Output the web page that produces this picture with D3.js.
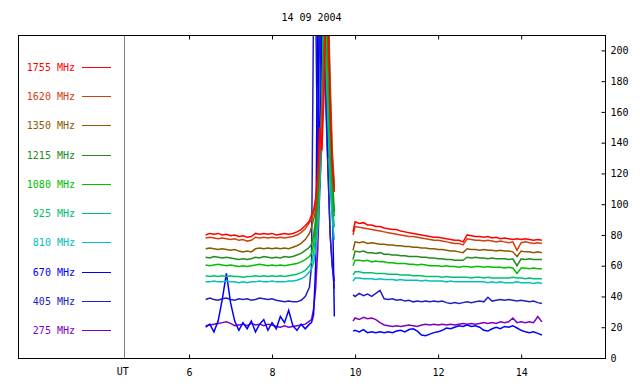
<!DOCTYPE html>
<html>
<head>
<meta charset="utf-8">
<script src="https://cdn.jsdelivr.net/npm/d3@7"></script>
<style>
  body { margin: 0; background: #fff; }
  text { font-family: "DejaVu Sans Mono", monospace; font-size: 10px; }
</style>
</head>
<body>
<div id="chart"></div>
<script>
// Radio flux, 14 09 2004 - one line per frequency
const freqs = ['1755 MHz', '1620 MHz', '1350 MHz', '1215 MHz', '1080 MHz', '925 MHz', '810 MHz', '670 MHz', '405 MHz', '275 MHz'];
const colors = ['#ff0000', '#d04010', '#8b5a00', '#228b22', '#00c000', '#00c070', '#00c0c0', '#0000ff', '#2020c0', '#8000c0'];

// UT hours
const tBefore = [6.4, 6.5, 6.6, 6.7, 6.8, 6.9, 7.0, 7.1, 7.2, 7.3, 7.4, 7.5, 7.6, 7.7, 7.8, 7.9, 8.0, 8.1, 8.2, 8.3, 8.4, 8.5, 8.6, 8.7, 8.8, 8.9,
  8.95, 9.0, 9.05, 9.1, 9.15, 9.2, 9.25, 9.3, 9.35, 9.4, 9.45, 9.5];
const tAfter = [9.95, 10.0, 10.1, 10.2, 10.3, 10.4, 10.5, 10.6, 10.7, 10.8, 10.9, 11.0, 11.1, 11.2, 11.3, 11.4, 11.5, 11.6, 11.7, 11.8, 11.9,
  12.0, 12.1, 12.2, 12.3, 12.4, 12.5, 12.6, 12.7, 12.8, 12.9, 13.0, 13.1, 13.2, 13.3, 13.4, 13.5, 13.6, 13.7, 13.8, 13.9,
  14.0, 14.1, 14.2, 14.3, 14.4, 14.5];

const before1755 = [80, 81, 80.5, 81, 80, 80.5, 79.5, 80, 79, 79.5, 78.5, 79, 81, 80.5, 81, 80.5, 81, 80, 80.5, 81, 80.5, 81, 82, 83.5, 86, 89,
  93, 96, 104, 120, 150, 135, 170, 230, 230, 160, 125, 108];
const after1755 = [82, 88.5, 87.5, 88, 86.5, 86.5, 85.5, 85.5, 84.5, 84, 83.5, 83.5, 82.5, 82, 81.5, 81, 80.5, 80, 79.5, 79, 78.5, 78.5, 78, 77.5,
  77, 76.5, 76.5, 75.5, 80, 79.5, 79, 79, 78.5, 79, 78, 78.5, 77.5, 78, 77.5, 77, 77.5, 77, 77.5, 77, 76.5, 77, 76.5];

const before1620 = [78, 78.5, 78, 77.5, 78, 77.5, 77, 77.5, 76.5, 77, 76, 76.5, 78.5, 78, 78.5, 78, 78.5, 78, 78.5, 78, 78.5, 79, 80, 81.5, 84, 88,
  90, 94, 100, 115, 140, 160, 190, 230, 230, 170, 130, 110];
const after1620 = [80, 85.5, 85, 84.5, 84, 83.5, 83, 82.5, 82, 81.5, 81, 80.5, 80, 79.5, 79, 79, 78.5, 78, 77.5, 77, 76.5, 76.5, 76, 75.5,
  75, 74.5, 74.5, 73.5, 77.5, 77, 76.5, 76.5, 76, 76.5, 76, 75.5, 76, 75.5, 75, 75.5, 70, 75, 75.5, 75, 74.5, 75, 74.5];

const before1350 = [71, 71.5, 71, 70.5, 71, 70.5, 70, 70.5, 69.5, 69, 69.5, 69, 71, 71.5, 71, 71.5, 71, 71.5, 71, 71.5, 71, 72, 73, 74.5, 77, 81,
  85, 90, 96, 110, 130, 150, 180, 230, 230, 180, 135, 112];
const after1350 = [70, 75.5, 75, 75.5, 74.5, 75, 74.5, 74, 74, 73.5, 73.5, 73, 73, 72.5, 72.5, 72, 72, 71.5, 71.5, 71, 71, 70.5, 70.5, 70,
  69.5, 69.5, 69, 68.5, 71, 70.5, 70.5, 70, 70.5, 70, 70, 69.5, 70, 69.5, 69.5, 69, 66, 69.5, 69, 69, 68.5, 69, 68.5];

const before1215 = [65.5, 65, 66, 65.5, 65, 65.5, 65, 64.5, 64, 64.5, 64, 64.5, 65.5, 65, 66, 65.5, 65, 65.5, 65, 66, 65.5, 66, 67, 68, 70, 72,
  74, 80, 90, 105, 135, 150, 200, 230, 200, 160, 120, 95];
const after1215 = [64, 69.5, 69, 69.5, 68.5, 68.5, 68, 68.5, 67.5, 67.5, 67, 67, 66.5, 66.5, 66, 66, 66, 65.5, 65.5, 65, 65, 64.5, 64.5, 64,
  64, 63.5, 63.5, 63.5, 65.5, 65, 65.5, 65, 65, 64.5, 65, 64.5, 64.5, 64.5, 64, 64.5, 60, 64.5, 64, 64.5, 64, 64, 64];

const before1080 = [60.5, 60, 60.5, 61, 60.5, 60, 60.5, 60, 59.5, 60, 59.5, 60, 60.5, 61, 60.5, 60, 60.5, 60, 60.5, 60, 60.5, 61, 61.5, 62.5, 64, 66,
  68, 74, 85, 100, 130, 170, 230, 230, 180, 140, 110, 92];
const after1080 = [60, 63.5, 63.5, 63, 63.5, 62.5, 63, 62.5, 62.5, 62, 62, 61.5, 61.5, 61.5, 61, 61, 60.5, 61, 60.5, 60, 60, 60, 59.5, 60,
  59.5, 59.5, 59, 59.5, 59.5, 59, 59.5, 59.5, 59, 59.5, 59, 59, 59, 58.5, 59, 58.5, 55, 58.5, 58.5, 58, 58.5, 58, 58];

const before925 = [53.5, 53, 53.5, 53, 53.5, 53, 53.5, 53, 53, 52.5, 53, 53, 53.5, 53, 53.5, 53, 53.5, 53, 53.5, 53, 53.5, 54, 54.5, 55.5, 57, 60,
  62, 68, 78, 90, 120, 160, 230, 200, 160, 120, 100, 85];
const after925 = [54, 56, 56, 55.5, 55.5, 55.5, 55, 55, 55, 54.5, 54.5, 54.5, 54, 54, 54, 53.5, 53.5, 53.5, 53, 53, 53, 53, 52.5, 53,
  52.5, 52.5, 52.5, 52.5, 52.5, 52, 52.5, 52.5, 52, 52.5, 52, 52, 52, 52, 52, 52.5, 52, 52, 51.5, 52, 51.5, 51.5, 51.5];

const before810 = [49.5, 49.5, 50, 49.5, 49.5, 50, 49.5, 49.5, 49, 49.5, 49, 49.5, 49.5, 50, 49.5, 49.5, 50, 49.5, 49.5, 49.5, 50, 50, 50.5, 51.5, 53, 56,
  58, 62, 70, 85, 110, 150, 230, 190, 150, 110, 90, 77];
const after810 = [50, 52, 52, 51.5, 51.5, 51.5, 51, 51.5, 51, 51, 51, 50.5, 51, 50.5, 50.5, 50.5, 50.5, 50, 50.5, 50, 50, 50, 50, 49.5,
  50, 49.5, 49.5, 49.5, 49.5, 49.5, 49.5, 49.5, 49.5, 49, 49.5, 49, 49.5, 49, 49, 49, 49.5, 49, 49, 49, 48.5, 49, 48.5];

const before670 = [20, 22, 17, 24, 38, 55, 36, 24, 18, 23, 19, 24, 17, 22, 25, 18, 23, 19, 27, 23, 31, 21, 18, 22, 19, 22,
  23, 28, 60, 230, 110, 230, 230, 200, 130, 140, 110, 27];
const after670 = [17.5, 18, 17, 18.5, 16.5, 17, 16.5, 17, 16.5, 17, 16.5, 17.5, 18, 17, 18.5, 19, 17.5, 15, 14.5, 15.5, 16.5, 17, 18, 19.5,
  19, 20, 21, 20.5, 21.5, 20.5, 21, 20, 18, 17.5, 19, 20, 19, 20.5, 20, 21, 19.5, 18, 17, 16.5, 17, 16, 15];

const before405 = [38, 39, 38, 37.5, 38.5, 39, 38, 37.5, 38.5, 38, 38.5, 37.5, 38, 39, 38.5, 38, 38.5, 37.5, 37, 36.5, 37, 36.5, 36.5, 37.5, 40, 46,
  60, 230, 230, 120, 230, 150, 230, 170, 120, 80, 60, 50];
const after405 = [41, 40, 42, 40.5, 41.5, 40, 42, 44, 38.5, 38, 38.5, 37.5, 38, 37, 37.5, 36.5, 37, 36.5, 37, 36.5, 37, 36.5, 37, 36,
  35.5, 36, 35.5, 36, 36.5, 36, 36.5, 37, 36.5, 39.5, 37, 37.5, 38, 37.5, 38, 37.5, 37, 37.5, 37, 36.5, 37, 36, 35.5];

const before275 = [21, 21.5, 22, 22.5, 23, 23.5, 22.5, 21, 21.5, 22, 21, 22.5, 21.5, 22, 21, 22, 21.5, 20.5, 20, 21, 20, 20.5, 21, 21.5, 22, 24,
  25, 32, 45, 70, 110, 140, 230, 160, 120, 80, 60, 45];
const after275 = [24, 26, 25, 26.5, 25.5, 26, 25, 23, 21.5, 21, 20.5, 21, 20.5, 21, 21.5, 21, 20.5, 21.5, 22, 21.5, 22, 21.5, 22, 21.5,
  22, 21.5, 22, 22.5, 22, 22.5, 22, 22.5, 23, 22.5, 23, 22.5, 23.5, 23, 23.5, 26, 23, 23.5, 23, 23.5, 23, 27, 23.5];

const beforeSets = [before1755, before1620, before1350, before1215, before1080, before925, before810, before670, before405, before275];
const afterSets = [after1755, after1620, after1350, after1215, after1080, after925, after810, after670, after405, after275];

const yTicks = [0, 20, 40, 60, 80, 100, 120, 140, 160, 180, 200];
const xTicks = [6, 8, 10, 12, 14];
const legendEdge = 4.43; // UT divider between legend and plot

const width = 640;
const height = 384;
const margin = { top: 35, right: 35, bottom: 26, left: 18 };

const svg = d3.select('#chart')
  .append('svg')
  .attr('width', width)
  .attr('height', height);

const x = d3.scaleLinear()
  .domain([1.88, 16.02])
  .range([margin.left, width - margin.right]);

const y = d3.scaleLinear()
  .domain([0, 210])
  .range([height - margin.bottom, margin.top]);

svg.append('defs').append('clipPath')
  .attr('id', 'plot-clip')
  .append('rect')
  .attr('x', x(legendEdge))
  .attr('y', margin.top)
  .attr('width', width - margin.right - x(legendEdge))
  .attr('height', height - margin.top - margin.bottom);

// Data lines, low frequencies underneath
const line = d3.line()
  .x(d => x(d.t))
  .y(d => y(d.v));

const series = freqs.map((f, i) => ({
  name: f,
  color: colors[i],
  segments: [
    tBefore.map((t, j) => ({ t: t, v: beforeSets[i][j] })),
    tAfter.map((t, j) => ({ t: t, v: afterSets[i][j] }))
  ]
})).reverse();

const lines = svg.append('g').attr('clip-path', 'url(#plot-clip)');
series.forEach(s => {
  lines.selectAll(null)
    .data(s.segments)
    .join('path')
    .attr('d', line)
    .attr('fill', 'none')
    .attr('stroke', s.color)
    .attr('stroke-width', 1.5);
});

// UT divider
svg.append('line')
  .attr('x1', Math.round(x(legendEdge)) + 0.5)
  .attr('x2', Math.round(x(legendEdge)) + 0.5)
  .attr('y1', margin.top)
  .attr('y2', height - margin.bottom)
  .attr('stroke', '#808080');

// Frame
svg.append('rect')
  .attr('x', margin.left + 0.5)
  .attr('y', margin.top + 0.5)
  .attr('width', width - margin.left - margin.right)
  .attr('height', height - margin.top - margin.bottom)
  .attr('fill', 'none')
  .attr('stroke', '#000');

// Axes
const yAxis = svg.append('g')
  .attr('transform', `translate(${width - margin.right + 0.5},0)`)
  .call(d3.axisRight(y).tickValues(yTicks).tickSize(-4).tickSizeOuter(0).tickPadding(5));

const xAxis = svg.append('g')
  .attr('transform', `translate(0,${height - margin.bottom + 0.5})`)
  .call(d3.axisBottom(x).tickValues(xTicks).tickSize(-4).tickSizeOuter(0).tickPadding(10).tickFormat(d3.format('d')));

const xTop = svg.append('g')
  .attr('transform', `translate(0,${margin.top + 0.5})`)
  .call(d3.axisTop(x).tickValues(xTicks).tickSize(-4).tickSizeOuter(0).tickFormat(''));

[yAxis, xAxis, xTop].forEach(g => {
  g.select('.domain').remove();
  g.selectAll('text').attr('font-family', '"DejaVu Sans Mono", monospace').attr('font-size', 10).attr('fill', '#000');
  g.selectAll('.tick line').attr('stroke', '#000');
});

svg.append('text')
  .attr('x', x(legendEdge) - 1)
  .attr('y', height - margin.bottom + 10)
  .attr('dy', '0.71em')
  .attr('text-anchor', 'middle')
  .text('UT');

// Title
svg.append('text')
  .attr('x', (margin.left + width - margin.right) / 2)
  .attr('y', 17)
  .attr('dy', '0.35em')
  .attr('text-anchor', 'middle')
  .text('14 09 2004');

// Legend
const ly = d3.scalePoint()
  .domain(freqs)
  .range([67, 330]);

const legend = svg.append('g')
  .selectAll('g')
  .data(freqs)
  .join('g')
  .attr('transform', d => `translate(0,${Math.round(ly(d)) + 0.5})`);

legend.append('text')
  .attr('x', 75)
  .attr('dy', '0.35em')
  .attr('text-anchor', 'end')
  .attr('fill', (d, i) => colors[i])
  .text(d => d);

legend.append('line')
  .attr('x1', 82)
  .attr('x2', 111)
  .attr('stroke', (d, i) => colors[i]);
</script>
</body>
</html>
